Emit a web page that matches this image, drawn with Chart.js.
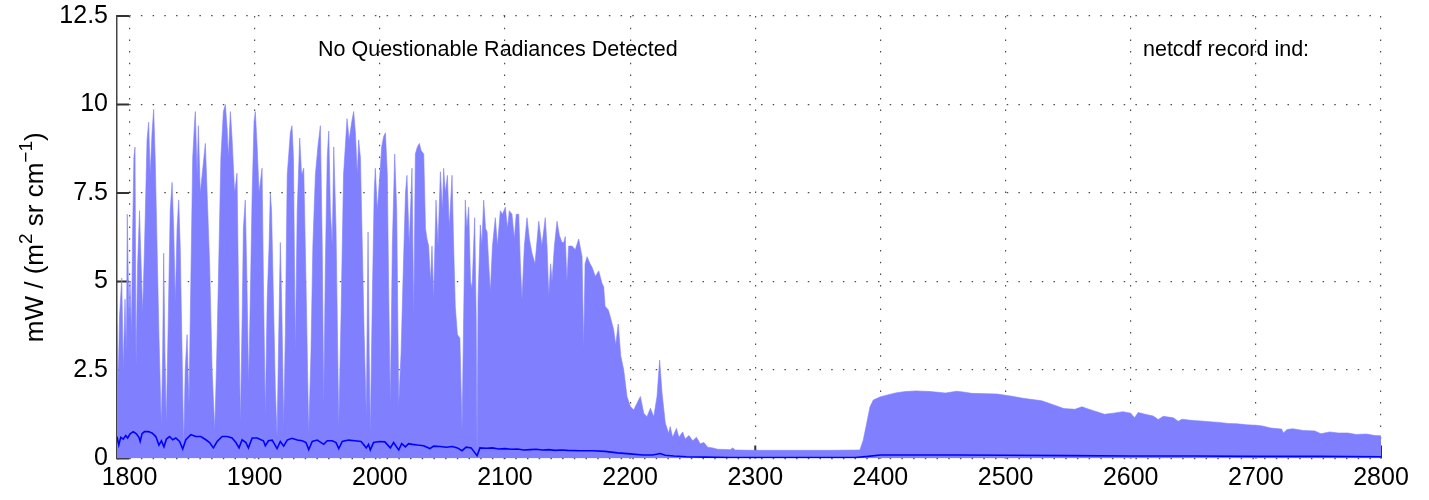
<!DOCTYPE html>
<html>
<head>
<meta charset="utf-8">
<script src="https://cdn.jsdelivr.net/npm/chart.js@4.4.1/dist/chart.umd.min.js"></script>
<style>
html,body{margin:0;padding:0;background:#fff;}
canvas{display:block;}
</style>
</head>
<body>
<canvas id="c" width="1429" height="500"></canvas>
<script>
// ---- data ----
const xTicks = [1800, 1900, 2000, 2100, 2200, 2300, 2400, 2500, 2600, 2700, 2800];
const yTicks = [0, 2.5, 5, 7.5, 10, 12.5];

// upper envelope of radiance (filled band)
const envWavenumber = [
1790,1791,1792,1793.8,1795,1796.4,1797.5,1798.2,1799.5,1800.4,1801.5,1802.5,1803.5,1804.4,1805.2,1806.5,1808,1808.8,1810.5,1812,
1814,1815.3,1816.5,1818,1819.3,1820.5,1822,1823.5,1825.4,1826.5,1827.3,1828.3,1829.4,1831,1832.5,1834,1835.3,1836.6,1838,1839.3,
1840.5,1842,1843.3,1844.5,1846,1847.5,1849,1850.5,1852,1852.6,1854,1855,1856.5,1858,1860.6,1862,1864,1866,1868.1,1869.5,
1871,1873,1875,1876.6,1878,1879,1880.6,1882,1884,1885.9,1887,1888.6,1890,1891,1892.5,1893.8,1895.2,1896.5,1898,1899.5,
1900.5,1902,1903.5,1905.9,1907,1908.5,1910,1911.5,1912.5,1913.5,1915,1916.5,1917.9,1919,1920.5,1921.8,1923.2,1924.5,1926,1928.5,
1929.8,1931,1932.5,1934,1936,1937.5,1939.2,1941,1943.2,1945,1946.5,1948.5,1950.5,1952.5,1954,1955.2,1956.5,1958,1959.2,1960.5,
1962,1963.2,1965,1967.2,1969,1971,1973.8,1975.5,1977.5,1979.1,1980.5,1982,1983.1,1984.5,1986,1987.5,1989.2,1990.6,1991.5,1992.4,
1994,1995.5,1996.4,1998,2000,2001.5,2003.1,2004.5,2006,2007,2008.4,2010,2011.9,2013.5,2015.1,2017,2018.5,2020.5,2021.7,2023.5,
2025.7,2027.1,2028.4,2030,2031.6,2033,2035.1,2036.5,2037.7,2039,2040.5,2041.7,2043,2044.9,2046.5,2048.4,2050,2051,2052.3,2054,
2055.5,2057.7,2059,2060.3,2062,2064,2065.7,2067,2068.3,2069.5,2071,2072.5,2073.7,2075.8,2077,2077.7,2078.5,2080.3,2081.5,2083,
2084.5,2085.7,2087,2088.3,2090,2092.3,2094,2096.3,2098,2100.3,2102,2103.5,2105.6,2107.5,2109,2111,2112.3,2113.6,2115.5,2117.6,
2119.5,2121.6,2124,2127,2129.5,2132.2,2133.6,2135,2136.5,2137.6,2139.5,2141.6,2143.5,2145.6,2147,2148.2,2149.5,2150.9,2153.6,2156.2,
2158.9,2161.6,2162.9,2164,2165.6,2168,2169.6,2172.2,2174.9,2177.5,2178.9,2180,2182.5,2184.2,2186.9,2188.5,2190.5,2192.5,2194.9,2197.5,
2200.2,2202.9,2205.5,2208.2,2210.9,2213.5,2216.2,2218.9,2221.5,2223.6,2225.5,2228.1,2230.8,2232,2234,2237,2239,2242,2244,2247,
2250,2253,2256,2259,2262,2266,2270,2280,2282,2284,2300,2330,2360,2383.6,2386.3,2389,2391.7,2394.3,2399.7,2405,
2413,2420,2428.6,2440,2452,2461,2466,2473,2485,2493.5,2505,2514,2529,2538,2546.6,2555.5,2561,2566,2579,2586,
2593.8,2600,2603,2606,2611.5,2618,2622,2626,2634,2638,2641,2650,2656,2663,2670.5,2678,2685,2693,2700,2705,
2712,2720.6,2722,2725,2729.5,2738,2747,2752,2759,2766,2773.7,2780,2788.5,2795,2800
];
const envRadiance = [
3.8,2.2,4.0,5.1,2.5,4.5,3.0,6.9,4.0,5.0,3.5,6.4,8.5,8.8,2.6,5.5,7.0,6.0,4.1,6.0,
9.0,9.5,8.0,9.2,9.86,8.5,6.0,3.5,0.9,3.0,5.8,3.0,0.95,4.0,7.0,7.8,6.5,4.4,6.5,7.3,
6.0,3.0,0.33,2.5,3.5,1.5,5.0,8.5,9.5,9.8,8.0,9.4,7.5,8.0,8.9,7.5,5.5,2.5,0.8,2.6,
5.0,8.5,9.8,10.0,9.3,8.5,9.8,9.0,7.5,8.06,5.0,0.95,4.0,6.5,7.3,5.0,2.1,4.5,7.5,9.5,
9.8,8.8,7.5,8.2,5.0,1.2,4.5,6.0,7.5,7.0,4.5,2.0,0.6,3.0,6.1,4.0,0.9,3.5,8.0,9.2,
9.4,8.5,3.0,7.0,9.05,8.0,8.2,5.0,0.7,3.0,6.0,8.0,8.8,9.4,6.0,1.5,5.5,8.5,9.25,7.0,
6.0,8.8,6.5,0.9,4.0,8.0,9.6,9.0,9.5,9.8,9.2,8.0,9.0,8.5,6.0,3.5,1.2,6.4,3.0,0.7,
4.5,7.5,8.2,7.0,8.0,8.8,9.1,9.2,8.0,5.0,1.5,6.0,8.6,7.0,1.5,3.0,5.0,7.5,8.0,6.0,
8.2,4.0,8.6,8.8,8.9,8.7,8.6,6.5,6.2,6.0,5.0,6.0,4.5,7.3,6.0,8.1,7.0,8.2,7.5,8.0,
6.5,8.0,6.0,4.3,3.5,3.4,0.8,4.0,7.3,6.5,7.1,5.0,4.8,6.8,4.0,0.05,4.5,6.6,6.0,7.3,
6.5,6.4,5.5,4.7,6.0,6.8,6.0,7.0,6.9,7.1,6.5,7.0,6.9,6.2,6.9,6.9,5.5,4.5,6.0,6.8,
6.2,5.8,5.5,6.7,6.0,6.8,6.0,4.6,5.5,5.0,6.0,6.7,6.3,6.1,6.1,6.27,5.0,6.0,6.0,5.9,
6.2,5.7,3.1,5.5,5.7,5.5,5.4,5.14,5.3,4.95,4.85,4.3,4.2,4.0,3.63,3.2,3.8,2.9,2.5,1.75,
1.47,1.37,1.56,1.75,1.28,1.18,1.42,1.18,1.75,2.78,1.85,1.0,0.71,0.9,0.6,0.85,0.6,0.75,0.55,0.65,
0.5,0.6,0.42,0.45,0.32,0.3,0.26,0.25,0.3,0.24,0.23,0.23,0.23,0.24,0.52,0.99,1.46,1.65,1.74,1.79,
1.86,1.89,1.91,1.89,1.85,1.9,1.88,1.84,1.83,1.82,1.76,1.7,1.63,1.52,1.41,1.39,1.46,1.4,1.25,1.28,
1.32,1.28,1.15,1.3,1.25,1.2,1.1,1.19,1.15,1.05,1.11,1.07,1.06,1.04,1.02,0.99,0.98,0.95,0.94,0.92,
0.86,0.83,0.72,0.82,0.84,0.79,0.78,0.7,0.75,0.72,0.72,0.68,0.69,0.65,0.64
];

// single spectrum (dark blue line)
const lineWavenumber = [
1790,1791.4,1793,1795,1797,1798.5,1800.5,1803,1805.5,1807.5,1808.5,1810,1812,1815,1818,1821,1823.5,1825.5,1827.5,1829.5,
1832,1834.5,1837,1840,1842.5,1845,1849,1853,1857,1861,1864,1867,1870,1874,1878,1882,1885,1887.5,1890,1893,
1895,1898,1902,1905,1907,1908.5,1911,1914,1917.9,1920.5,1923.2,1926,1929.8,1934,1938,1941,1943.2,1946,1950,1955.2,
1958,1962,1965,1967.2,1970,1975,1980,1985,1989.2,1991,1992.4,1995,2000,2004,2008.4,2011,2015.1,2017.5,2020.4,2023,
2026,2030,2035,2040,2043,2048,2053,2058,2062,2065.7,2069,2073,2077.7,2080,2085,2090,2095,2100,2105,2110,
2115,2120,2125,2130,2135,2140,2145,2150,2160,2170,2180,2190,2200,2210,2218,2224,2228,2235,2245,2260,
2280,2300,2330,2360,2380,2390,2400,2430,2460,2500,2550,2600,2650,2700,2750,2800
];
const lineRadiance = [
0.62,0.38,0.6,0.55,0.65,0.58,0.7,0.76,0.7,0.6,0.48,0.7,0.76,0.76,0.72,0.62,0.38,0.5,0.33,0.55,
0.62,0.53,0.58,0.48,0.27,0.53,0.67,0.62,0.62,0.53,0.45,0.3,0.48,0.62,0.62,0.58,0.45,0.3,0.53,0.45,
0.3,0.58,0.58,0.53,0.5,0.36,0.5,0.52,0.28,0.48,0.35,0.52,0.57,0.52,0.5,0.45,0.25,0.48,0.52,0.4,
0.5,0.5,0.45,0.28,0.48,0.52,0.5,0.48,0.3,0.4,0.24,0.45,0.48,0.47,0.3,0.45,0.24,0.42,0.33,0.42,
0.4,0.38,0.36,0.28,0.35,0.34,0.32,0.34,0.3,0.22,0.32,0.3,0.08,0.3,0.29,0.3,0.27,0.28,0.26,0.27,
0.24,0.25,0.26,0.24,0.25,0.23,0.24,0.23,0.22,0.22,0.2,0.16,0.13,0.1,0.1,0.14,0.09,0.07,0.05,0.04,
0.03,0.03,0.03,0.03,0.03,0.06,0.1,0.1,0.1,0.09,0.08,0.07,0.07,0.06,0.06,0.05
];

const yTitleParts = [
  {t: 'mW / (m', sup: false}, {t: '2', sup: true}, {t: ' sr cm', sup: false}, {t: '\u22121', sup: true}, {t: ')', sup: false}
];

const notes = [
  {text: 'No Questionable Radiances Detected', x: 1950.6, y: 11.55},
  {text: 'netcdf record ind:', x: 2609.8, y: 11.55}
];

// ---- chart ----
const FONT = '"Liberation Sans", Arial, Helvetica, sans-serif';

const axisDecor = {
  id: 'axisDecor',
  beforeDatasetsDraw(chart) {
    const {ctx, chartArea: a, scales: {x, y}} = chart;
    ctx.save();
    ctx.strokeStyle = '#333';
    ctx.lineWidth = 2;
    ctx.beginPath();
    yTicks.forEach(v => {
      const py = y.getPixelForValue(v);
      ctx.moveTo(a.left, py);
      ctx.lineTo(a.left + 12, py);
    });
    xTicks.forEach(v => {
      const px = x.getPixelForValue(v);
      ctx.moveTo(px, a.bottom);
      ctx.lineTo(px, a.bottom - 13);
    });
    ctx.stroke();
    ctx.restore();
  },
  afterDraw(chart) {
    const {ctx, chartArea: a, scales: {x, y}} = chart;
    ctx.save();
    ctx.fillStyle = '#000';
    ctx.font = '21.5px ' + FONT;
    ctx.textAlign = 'left';
    ctx.textBaseline = 'middle';
    notes.forEach(n => ctx.fillText(n.text, x.getPixelForValue(n.x), y.getPixelForValue(n.y)));

    // y axis title with real superscripts
    const big = '26px ' + FONT, small = '19px ' + FONT;
    let total = 0;
    yTitleParts.forEach(p => { ctx.font = p.sup ? small : big; p.w = ctx.measureText(p.t).width; total += p.w; });
    ctx.translate(43, (a.top + a.bottom) / 2);
    ctx.rotate(-Math.PI / 2);
    ctx.textBaseline = 'alphabetic';
    let cx = -total / 2;
    yTitleParts.forEach(p => {
      ctx.font = p.sup ? small : big;
      ctx.fillText(p.t, cx, p.sup ? -11 : 0);
      cx += p.w;
    });
    ctx.restore();
  }
};

new Chart(document.getElementById('c'), {
  type: 'line',
  data: {
    datasets: [
      {
        label: 'spectrum',
        data: lineWavenumber.map((w, i) => ({x: w, y: lineRadiance[i]})),
        borderColor: '#0000ff',
        borderWidth: 1.6,
        pointRadius: 0,
        fill: false,
        tension: 0,
        order: 0
      },
      {
        label: 'envelope',
        data: envWavenumber.map((w, i) => ({x: w, y: envRadiance[i]})),
        borderColor: '#8080ff',
        borderWidth: 0.6,
        backgroundColor: '#8080ff',
        pointRadius: 0,
        fill: 'origin',
        tension: 0,
        order: 1
      }
    ]
  },
  options: {
    responsive: false,
    devicePixelRatio: 1,
    animation: false,
    events: [],
    layout: {padding: {top: 16, right: 48, bottom: 0, left: 0}},
    plugins: {legend: {display: false}, tooltip: {enabled: false}, title: {display: false}},
    scales: {
      x: {
        type: 'linear',
        min: 1790,
        max: 2800,
        z: 1,
        afterBuildTicks: s => { s.ticks = xTicks.map(v => ({value: v})); },
        afterFit: s => { s.height = 41.5; s.paddingLeft = 0; s.paddingRight = 0; },
        ticks: {
          autoSkip: false, maxRotation: 0, padding: 5, color: '#000',
          font: {family: FONT, size: 25},
          callback: v => String(v)
        },
        grid: {color: 'rgba(0,0,0,0.7)', lineWidth: 1.2, drawTicks: false},
        border: {display: false, dash: [1.5, 10.2]}
      },
      y: {
        type: 'linear',
        min: 0,
        max: 12.5,
        z: 1,
        afterBuildTicks: s => { s.ticks = yTicks.map(v => ({value: v})); },
        afterFit: s => { s.width = 117; s.paddingTop = 0; s.paddingBottom = 0; },
        ticks: {
          autoSkip: false, padding: 9, color: '#000',
          font: {family: FONT, size: 25},
          callback: v => String(v)
        },
        grid: {color: 'rgba(0,0,0,0.7)', lineWidth: 1.2, drawTicks: false},
        border: {display: true, color: '#444', width: 1.5, dash: [1.5, 10.2]},
        title: {display: false}
      }
    }
  },
  plugins: [axisDecor]
});
</script>
</body>
</html>
